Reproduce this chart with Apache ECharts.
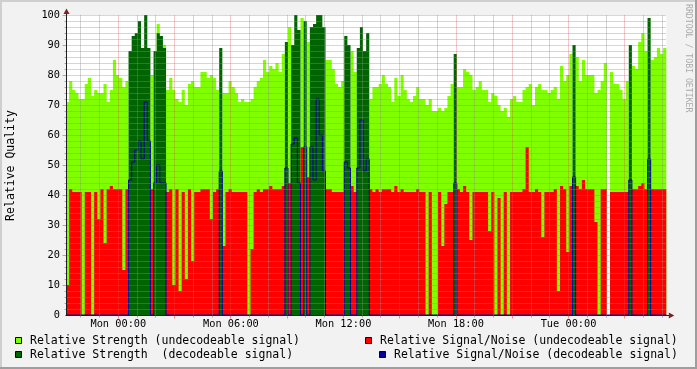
<!DOCTYPE html>
<html><head><meta charset="utf-8">
<script src="https://cdn.jsdelivr.net/npm/echarts@6/dist/echarts.min.js"></script>
<style>html,body{margin:0;padding:0;background:#F2F2F2;}#c{width:697px;height:369px;}</style>
</head><body><div id="c"></div><script>
// ---- data: 10-minute slots, time in hours relative to Mon 00:00 ----
const SLOT_START = -2.79;
const SLOT_HOURS = 1 / 6;

const strengthUndecodeable = [
71,78,75,74,72,72,77,79,73,75,74,74,
77,71,75,85,80,79,76,78,0,0,0,0,
0,0,0,80,0,97,0,90,75,79,75,72,
71,75,70,77,78,76,76,81,81,79,80,79,
75,0,74,74,78,76,74,71,72,71,71,72,
76,78,79,85,81,83,82,84,81,87,0,96,
0,0,0,99,0,91,0,0,0,0,0,85,
85,82,77,76,78,0,0,88,81,0,0,0,
0,72,76,76,77,80,77,76,71,79,73,80,
75,72,71,73,76,72,72,70,72,68,68,69,
68,69,73,77,0,76,76,82,81,80,75,76,
78,75,75,71,74,73,70,68,69,66,72,73,
71,71,75,76,77,70,76,77,75,75,74,75,
76,72,83,78,80,87,0,86,78,85,80,80,
80,74,75,78,84,0,81,77,77,75,72,78,
0,83,82,91,94,88,0,85,86,89,87,89
];
const snUndecodeable = [
10,42,41,41,41,0,41,41,0,41,32,42,
24,42,43,42,42,42,15,42,0,0,0,0,
0,0,0,42,0,53,0,0,41,42,10,42,
8,41,12,42,18,41,41,42,42,42,32,41,
42,0,23,41,42,41,41,41,41,41,0,22,
41,42,41,42,42,43,42,42,42,43,0,44,
0,0,0,56,0,46,0,0,0,0,0,42,
42,41,41,41,41,0,0,43,41,0,0,0,
0,42,41,42,41,42,42,42,41,43,41,42,
41,41,41,41,42,41,41,0,41,0,0,41,
23,37,41,41,0,42,41,43,41,25,41,41,
41,41,41,28,41,0,39,0,41,0,41,41,
41,41,42,56,41,41,42,41,26,41,41,41,
42,8,43,42,21,43,0,43,42,45,42,42,
42,31,0,42,42,0,41,41,41,41,41,41,
0,42,42,43,44,42,0,42,42,42,42,42
];
const strengthDecodeable = [
0,0,0,0,0,0,0,0,0,0,0,0,
0,0,0,0,0,0,0,0,88,93,94,98,
89,100,89,0,88,94,93,89,0,0,0,0,
0,0,0,0,0,0,0,0,0,0,0,0,
0,89,0,0,0,0,0,0,0,0,0,0,
0,0,0,0,0,0,0,0,0,0,91,0,
90,100,95,0,98,0,96,97,100,100,96,0,
0,0,0,0,0,93,90,0,0,89,96,88,
94,0,0,0,0,0,0,0,0,0,0,0,
0,0,0,0,0,0,0,0,0,0,0,0,
0,0,0,0,87,0,0,0,0,0,0,0,
0,0,0,0,0,0,0,0,0,0,0,0,
0,0,0,0,0,0,0,0,0,0,0,0,
0,0,0,0,0,0,90,0,0,0,0,0,
0,0,0,0,0,0,0,0,0,0,0,0,
90,0,0,0,0,0,99,0,0,0,0,0
];
const snDecodeable = [
0,0,0,0,0,0,0,0,0,0,0,0,
0,0,0,0,0,0,0,0,45,51,55,58,
52,71,58,0,44,50,44,44,0,0,0,0,
0,0,0,0,0,0,0,0,0,0,0,0,
0,48,0,0,0,0,0,0,0,0,0,0,
0,0,0,0,0,0,0,0,0,0,49,0,
57,59,44,0,56,0,56,45,72,60,48,0,
0,0,0,0,0,51,49,0,0,49,65,48,
52,0,0,0,0,0,0,0,0,0,0,0,
0,0,0,0,0,0,0,0,0,0,0,0,
0,0,0,0,44,0,0,0,0,0,0,0,
0,0,0,0,0,0,0,0,0,0,0,0,
0,0,0,0,0,0,0,0,0,0,0,0,
0,0,0,0,0,0,46,0,0,0,0,0,
0,0,0,0,0,0,0,0,0,0,0,0,
45,0,0,0,0,0,52,0,0,0,0,0
];

const tickHours = [0, 6, 12, 18, 24];
const tickLabels = ['Mon 00:00', 'Mon 06:00', 'Mon 12:00', 'Mon 18:00', 'Tue 00:00'];
const seriesNames = [
  'Relative Strength (undecodeable signal)',
  'Relative Signal/Noise (undecodeable signal)',
  'Relative Strength  (decodeable signal)',
  'Relative Signal/Noise (decodeable signal)'
];
const yTitle = 'Relative Quality';
const watermark = 'RRDTOOL / TOBI OETIKER';

// ---- styling ----
const C_LG = '#80FF00', C_RED = '#FF0000', C_DG = '#006400', C_BLUE = '#000099';
const MONO = '"DejaVu Sans Mono", monospace';
const X_MIN = SLOT_START;
const X_MAX = SLOT_START + strengthUndecodeable.length * SLOT_HOURS;

function pairs(arr) {
  const d = arr.map((v, i) => [SLOT_START + i * SLOT_HOURS, v]);
  d.push([X_MAX, arr[arr.length - 1]]);
  return d;
}
function areaSeries(name, arr, color) {
  return {
    name, type: 'line', step: 'end', data: pairs(arr), symbol: 'none', showSymbol: false,
    lineStyle: { width: 0, opacity: 0 }, areaStyle: { color, opacity: 1 }, itemStyle: { color },
    silent: true, animation: false, z: 2
  };
}

const chart = echarts.init(document.getElementById('c'), null, { renderer: 'canvas' });
chart.setOption({
  animation: false,
  backgroundColor: '#F2F2F2',
  grid: { left: 66, right: 30.7, top: 15, bottom: 54, show: true, backgroundColor: '#FFFFFF', borderWidth: 0 },
  xAxis: { type: 'value', min: X_MIN, max: X_MAX, axisLine: { show: false }, axisTick: { show: false },
           axisLabel: { show: false }, splitLine: { show: false } },
  yAxis: { type: 'value', min: 0, max: 100, interval: 10, axisLine: { show: false }, axisTick: { show: false },
           splitLine: { show: false },
           axisLabel: { fontFamily: MONO, fontSize: 10.3, color: '#000', margin: 6 } },
  series: [
    areaSeries(seriesNames[0], strengthUndecodeable, C_LG),
    areaSeries(seriesNames[1], snUndecodeable, C_RED),
    areaSeries(seriesNames[2], strengthDecodeable, C_DG),
    { name: seriesNames[3], type: 'line', step: 'end', data: pairs(snDecodeable), symbol: 'none', showSymbol: false,
      lineStyle: { width: 1, color: C_BLUE }, itemStyle: { color: C_BLUE }, silent: true, animation: false, z: 3 }
  ]
});

// ---- decorations placed through the chart's own scales ----
const px = (x, y) => chart.convertToPixel({ gridIndex: 0 }, [x, y]);
const crisp = v => Math.round(v - 0.5) + 0.5;
const o = px(X_MIN, 0), tr = px(X_MAX, 100);
const L = crisp(o[0]), B = crisp(o[1]), R = tr[0], T = crisp(tr[1]);
const GRID = 'rgba(143,143,143,0.75)', MGRID = 'rgba(222,79,79,0.6)', AXIS = '#1F1F1F', ARROW = '#801F1F';
const g = [];
const line = (x1, y1, x2, y2, stroke, dash, z) => g.push({ type: 'line', z: z, silent: true,
  shape: { x1, y1, x2, y2 }, style: { stroke, lineWidth: 1, lineDash: dash || null } });

// frame
g.push({ type: 'rect', z: 0, shape: { x: 0, y: 0, width: 697, height: 2 }, style: { fill: '#CFCFCF' } });
g.push({ type: 'rect', z: 0, shape: { x: 0, y: 0, width: 2, height: 369 }, style: { fill: '#CFCFCF' } });
g.push({ type: 'rect', z: 0, shape: { x: 695, y: 0, width: 2, height: 369 }, style: { fill: '#9E9E9E' } });
g.push({ type: 'rect', z: 0, shape: { x: 0, y: 367, width: 697, height: 2 }, style: { fill: '#9E9E9E' } });

// horizontal grid + y ticks
for (let v = 2; v <= 100; v += 2) {
  const y = crisp(px(X_MIN, v)[1]);
  const major = v % 10 === 0;
  line(L, y, R, y, major ? MGRID : GRID, [1, 1], 50);
  line(L - (major ? 4 : 2), y, L, y, major ? MGRID : GRID, null, 50);
}
// vertical grid + x ticks
for (let h = Math.ceil(X_MIN); h <= Math.floor(X_MAX); h++) {
  const x = crisp(px(h, 0)[0]);
  const major = h % 3 === 0;
  line(x, T, x, B, major ? MGRID : GRID, [1, 1], 50);
  line(x, B, x, B + (major ? 3 : 2), major ? MGRID : GRID, null, 50);
}
// axes and arrows
line(L - 1, B, R + 6, B, AXIS, null, 1);
line(L, B, L, T - 5, AXIS, null, 60);
g.push({ type: 'polygon', z: 61, silent: true, shape: { points: [[L - 3, T - 1.5], [L + 3, T - 1.5], [L, T - 7]] }, style: { fill: ARROW } });
g.push({ type: 'polygon', z: 61, silent: true, shape: { points: [[R + 2.5, B - 3], [R + 2.5, B + 3], [R + 8, B]] }, style: { fill: ARROW } });

// x tick labels
tickHours.forEach((h, i) => {
  g.push({ type: 'text', z: 60, silent: true, x: px(h, 0)[0], y: B + 8.5,
    style: { text: tickLabels[i], font: '10.3px ' + MONO, fill: '#000', textAlign: 'center', align: 'center', textVerticalAlign: 'middle', verticalAlign: 'middle' } });
});
// y title
g.push({ type: 'text', z: 60, silent: true, x: 11.5, y: (T + B) / 2, rotation: Math.PI / 2,
  style: { text: yTitle, font: '11.5px ' + MONO, fill: '#000', textAlign: 'center', align: 'center', textVerticalAlign: 'middle', verticalAlign: 'middle' } });
// watermark
g.push({ type: 'text', z: 60, silent: true, x: 688, y: 4, rotation: -Math.PI / 2,
  style: { text: watermark, font: '8.2px ' + MONO, fill: '#ABABAB', textAlign: 'left', align: 'left', textVerticalAlign: 'middle', verticalAlign: 'middle' } });

// legend
const legendLayout = [
  { color: C_LG, bx: 15.5, by: 337.5, tx: 30, ty: 341 },
  { color: C_RED, bx: 365.5, by: 337.5, tx: 380, ty: 341 },
  { color: C_DG, bx: 15.5, by: 351.5, tx: 30, ty: 355 },
  { color: C_BLUE, bx: 379.5, by: 351.5, tx: 394, ty: 355 }
];
legendLayout.forEach((it, i) => {
  g.push({ type: 'rect', z: 60, silent: true, shape: { x: it.bx, y: it.by, width: 6, height: 6 }, style: { fill: it.color, stroke: '#000', lineWidth: 1 } });
  g.push({ type: 'text', z: 60, silent: true, x: it.tx, y: it.ty,
    style: { text: seriesNames[i], font: '11.5px ' + MONO, fill: '#000', textAlign: 'left', align: 'left', textVerticalAlign: 'middle', verticalAlign: 'middle' } });
});

chart.setOption({ graphic: { elements: g } });
</script></body></html>
